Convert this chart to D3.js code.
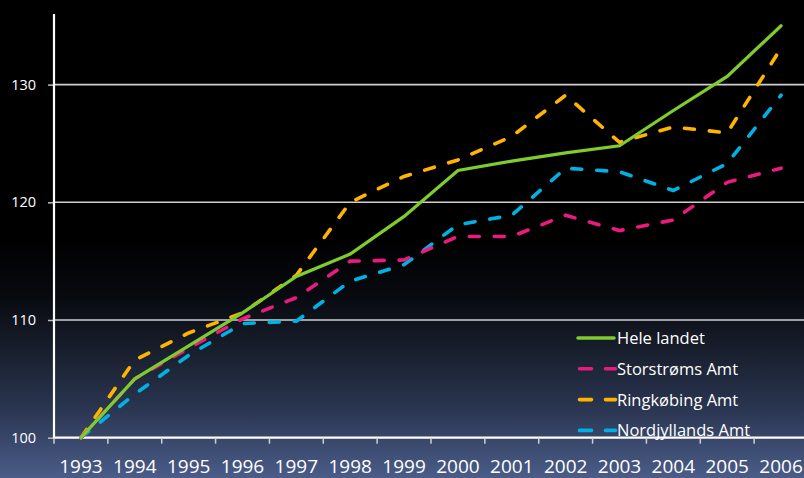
<!DOCTYPE html>
<html>
<head>
<meta charset="utf-8">
<script src="https://cdn.jsdelivr.net/npm/d3@7"></script>
<style>
html,body{margin:0;padding:0;background:#000;}
svg{display:block;}
</style>
</head>
<body>
<svg id="chart" width="804" height="478"></svg>
<script>
const years = ["1993","1994","1995","1996","1997","1998","1999","2000","2001","2002","2003","2004","2005","2006"];
const heleLandet   = [100,105.0,107.8,110.6,113.7,115.6,118.8,122.7,123.5,124.2,124.8,127.8,130.7,135.0];
const storstroms   = [100,105.0,107.6,110.1,111.9,115.0,115.1,117.1,117.1,118.9,117.6,118.5,121.7,122.9];
const ringkobing   = [100,106.6,108.9,110.6,113.8,120.0,122.2,123.6,125.6,129.1,125.1,126.4,125.9,133.1];
const nordjyllands = [100,103.7,107.0,109.7,109.9,113.3,114.7,118.1,118.9,122.9,122.6,121.0,123.3,129.1];
const yTicks = [100,110,120,130];
const seriesNames = ["Hele landet","Storstrøms Amt","Ringkøbing Amt","Nordjyllands Amt"];

const series = [
  {name: seriesNames[0], values: heleLandet,   color: "#7fcc2e", dash: null},
  {name: seriesNames[1], values: storstroms,   color: "#ea1a7f", dash: "10 15"},
  {name: seriesNames[2], values: ringkobing,   color: "#ffb400", dash: "10 15"},
  {name: seriesNames[3], values: nordjyllands, color: "#00b2e3", dash: "10 15"}
];

const svg = d3.select("#chart");
const W = 804, H = 478;
const font = "'Open Sans', Lato, sans-serif";

// background gradient
const defs = svg.append("defs");
const grad = defs.append("linearGradient").attr("id","bg").attr("x1",0).attr("y1",0).attr("x2",0).attr("y2",1);
[[0,"#000000"],[0.5,"#000000"],[0.62,"#080a10"],[0.72,"#161c29"],[0.85,"#29344f"],[1,"#4a5c88"]]
  .forEach(([o,c]) => grad.append("stop").attr("offset",o).attr("stop-color",c));
svg.append("rect").attr("width",W).attr("height",H).attr("fill","url(#bg)");

const x = d3.scaleBand().domain(years).range([54, 808]).padding(0);
const y = d3.scaleLinear().domain([100,136]).range([437.7, 14]);

// gridlines
svg.append("g").selectAll("line").data(yTicks.filter(d => d > 100)).join("line")
  .attr("x1", 54).attr("x2", W)
  .attr("y1", d => y(d)).attr("y2", d => y(d))
  .attr("stroke", "#cfcfcf").attr("stroke-width", 1.6);

// y axis
const yAxis = svg.append("g").attr("transform","translate(54,0)")
  .call(d3.axisLeft(y).tickValues(yTicks).tickSize(6).tickPadding(12).tickFormat(d3.format("d")));
yAxis.select(".domain").remove();
yAxis.selectAll(".tick line").attr("stroke","#bdbdbd").attr("stroke-width",1.5);
yAxis.selectAll("text").attr("fill","#ffffff").style("font-family",font).style("font-size","14.5px");
svg.append("line").attr("x1",54).attr("x2",54).attr("y1",14).attr("y2",y(100)+1)
  .attr("stroke","#ffffff").attr("stroke-width",2.2);

// x axis
svg.append("line").attr("x1",54).attr("x2",W).attr("y1",y(100)).attr("y2",y(100))
  .attr("stroke","#ffffff").attr("stroke-width",2.2);
svg.append("g").selectAll("line").data(years).join("line")
  .attr("x1", d => x(d)).attr("x2", d => x(d))
  .attr("y1", y(100)).attr("y2", y(100)+6)
  .attr("stroke","#cfcfcf").attr("stroke-width",1.5);
svg.append("g").selectAll("text").data(years).join("text")
  .attr("x", d => x(d) + x.bandwidth()/2)
  .attr("y", 473)
  .attr("text-anchor","middle")
  .attr("fill","#ffffff")
  .style("font-family",font).style("font-size","19px")
  .text(d => d);

// lines
const line = d3.line().x((d,i) => x(years[i]) + x.bandwidth()/2).y(d => y(d));
svg.append("g").selectAll("path").data(series.slice().reverse()).join("path")
  .attr("d", d => line(d.values))
  .attr("fill","none")
  .attr("stroke", d => d.color)
  .attr("stroke-width", d => d.dash ? 3.6 : 3.2)
  .attr("stroke-linecap", "round")
  .attr("stroke-linejoin","miter")
  .attr("stroke-dasharray", d => d.dash);

// legend
const lg = svg.append("g").attr("transform","translate(578,338)");
const rows = lg.selectAll("g").data(series).join("g").attr("transform",(d,i)=>`translate(0,${i*30.8})`);
rows.append("line").attr("x1",0).attr("x2",36).attr("y1",0).attr("y2",0)
  .attr("stroke", d => d.color).attr("stroke-width",3.6)
  .attr("stroke-linecap","round")
  .attr("stroke-dasharray", d => d.dash ? "12 14 10 100" : null)
  .attr("transform", d => d.dash ? "translate(1.5,0)" : null);
rows.append("text").attr("x",39).attr("y",0).attr("dy","0.36em")
  .attr("fill","#ffffff").style("font-family",font).style("font-size","16.5px")
  .text(d => d.name);
</script>
</body>
</html>
